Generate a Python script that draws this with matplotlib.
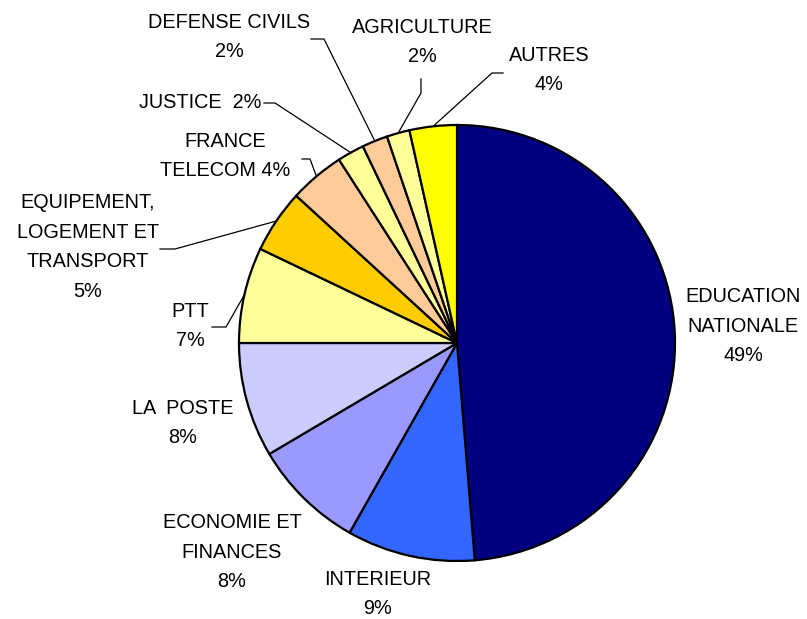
import matplotlib
matplotlib.use('Agg')
from matplotlib import pyplot as plt
import numpy as np

# slice shares (clockwise from 12 o'clock)
names = ['EDUCATION\nNATIONALE', 'INTERIEUR', 'ECONOMIE ET\nFINANCES', 'LA  POSTE',
         'PTT', 'EQUIPEMENT,\nLOGEMENT ET\nTRANSPORT', 'FRANCE\nTELECOM',
         'JUSTICE ', 'DEFENSE CIVILS', 'AGRICULTURE', 'AUTRES']
shares = [48.7, 9.5, 8.3, 8.5, 7.1, 4.7, 4.1, 2.0, 1.9, 1.7, 3.5]
pct_text = ['49%', '9%', '8%', '8%', '7%', '5%', '4%', '2%', '2%', '2%', '4%']
slice_colors = ['#000080', '#3366FF', '#9999FF', '#CCCCFF', '#FFFF99', '#FFCC00',
                '#FFCC99', '#FFFF99', '#FFCC99', '#FFFF99', '#FFFF00']

W, H = 807, 619
cx, cy, R = 457, H - 343, 218

# label placement in pixels (x, y from top); sep joins name and percent
label_pos = [(743, 326), (378, 594), (232, 552), (183, 423), (190, 326), (88, 247),
             (225, 156), (200, 102), (229, 37), (422, 42), (549, 70)]
label_sep = ['\n', '\n', '\n', '\n', '\n', '\n', ' ', ' ', '\n', '\n', '\n']
# leader lines: (end near label, elbow), None when no leader
leaders = [None, None, None, None,
           ((212, 327), (226, 327)),
           ((160, 249), (175, 249)),
           ((302, 159), (310, 159)),
           ((264, 103), (275, 103)),
           ((311, 39), (324, 39)),
           ((421, 79), (421, 93)),
           ((503, 73), (492, 73))]

fig = plt.figure(figsize=(W / 100, H / 100), dpi=100)
ax = fig.add_axes([0, 0, 1, 1])
explode = [0.006] + [0] * (len(shares) - 1)
wedges, _ = ax.pie(shares, colors=slice_colors, startangle=90, counterclock=False,
                   center=(cx, cy), radius=R, explode=explode,
                   wedgeprops=dict(edgecolor='black', linewidth=1.6))
ax.set_xlim(0, W)
ax.set_ylim(0, H)
ax.set_aspect('equal')
ax.axis('off')

for i, w in enumerate(wedges):
    lx, ly = label_pos[i]
    ax.text(lx, H - ly, names[i] + label_sep[i] + pct_text[i], ha='center', va='center',
            fontsize=14.3, family='Liberation Sans', linespacing=1.72, color='black')
    if leaders[i] is not None:
        mid = np.deg2rad((w.theta1 + w.theta2) / 2)
        ex, ey = cx + R * np.cos(mid), cy + R * np.sin(mid)
        (ax1, ay1), (ax2, ay2) = leaders[i]
        ax.plot([ax1, ax2, ex], [H - ay1, H - ay2, ey], color='black', lw=0.9)

fig.savefig('out.png', dpi=100)
